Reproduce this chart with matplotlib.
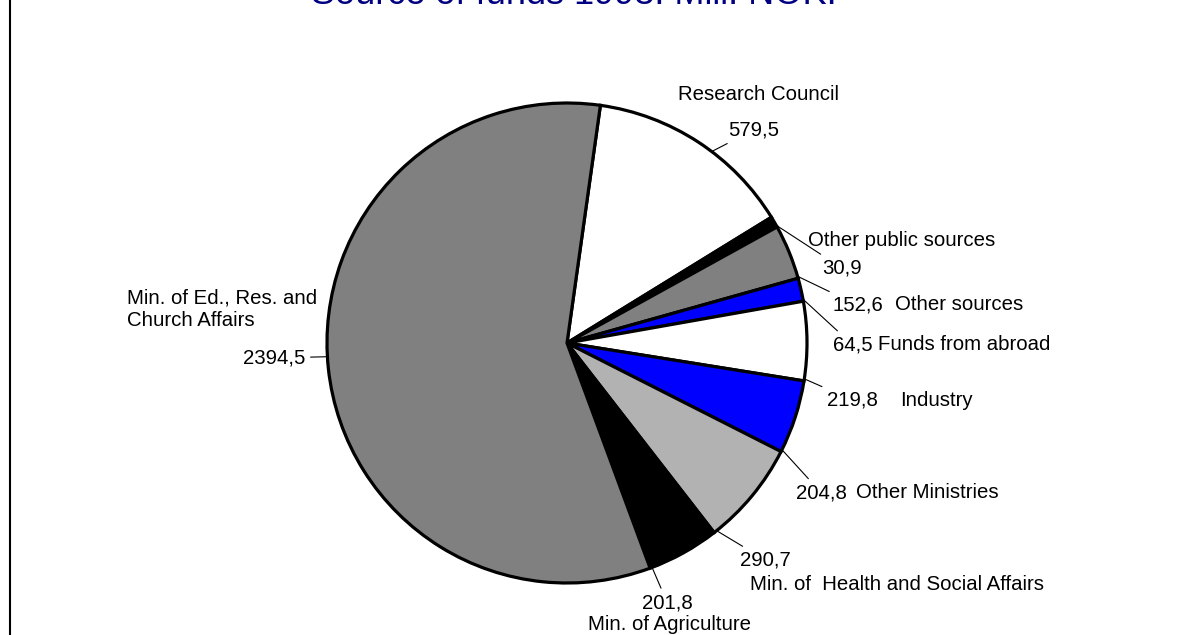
import numpy as np
import matplotlib
matplotlib.use('Agg')
import matplotlib.pyplot as plt

plt.rcParams['font.family'] = ['Liberation Sans', 'DejaVu Sans']

# Data (Mill. NOK), clockwise from the top
sources = ['Research Council', 'Other public sources', 'Other sources',
           'Funds from abroad', 'Industry', 'Other Ministries',
           'Min. of  Health and Social Affairs', 'Min. of Agriculture',
           'Min. of Ed., Res. and\nChurch Affairs']
values = [579.5, 30.9, 152.6, 64.5, 219.8, 204.8, 290.7, 201.8, 2394.5]
value_labels = ['579,5', '30,9', '152,6', '64,5', '219,8', '204,8', '290,7', '201,8', '2394,5']
colors = ['white', 'black', '#808080', '#0000ff', 'white', '#0000ff',
          '#b2b2b2', 'black', '#808080']

# label layout, in pie radius units relative to centre
PX, PY, R = 567, 343, 240.0


def p(x, y):
    return (x - PX) / R, (PY - y) / R


value_pos = [p(728, 130), p(822, 268), p(832, 305), p(833, 345), p(827, 400),
             p(796, 493), p(740, 560), p(642, 603), p(305, 358)]
value_ha = ['left'] * 8 + ['right']
name_pos = [p(678, 95), p(808, 241), p(895, 305), p(878, 345), p(900, 400),
            p(856, 493), p(750, 585), p(588, 625), p(127, 309)]

fig = plt.figure(figsize=(12, 6.35), dpi=100)
ax = fig.add_axes([0, 0, 1, 1])

wedges, _ = ax.pie(values, colors=colors, startangle=82, counterclock=False,
                   radius=1.0, wedgeprops=dict(edgecolor='black', linewidth=2.3))

# pie() resets the limits, so set them afterwards
ax.set_xlim(-PX / R, (1200 - PX) / R)
ax.set_ylim(-(635 - PY) / R, PY / R)
ax.set_aspect('equal')
ax.axis('off')

fs = 14.7
for w, vl, vp, ha, name, npos in zip(wedges, value_labels, value_pos, value_ha,
                                     sources, name_pos):
    # leader goes to the edge point nearest the label, kept inside the slice
    t1, t2 = w.theta1, w.theta2
    a = np.degrees(np.arctan2(vp[1], vp[0]))
    while a < t1:
        a += 360
    while a > t1 + 360:
        a -= 360
    if a > t2:
        # outside the slice: snap to the closer boundary
        d1 = min(abs(a - t1), abs(a - 360 - t1))
        d2 = abs(a - t2)
        a = t1 + 0.5 if d1 < d2 else t2 - 0.5
    edge = (np.cos(np.radians(a)), np.sin(np.radians(a)))
    ax.annotate(vl, xy=edge, xytext=vp, ha=ha, va='center', fontsize=fs,
                arrowprops=dict(arrowstyle='-', color='black', lw=0.8,
                                shrinkA=2, shrinkB=0))
    ax.text(npos[0], npos[1], name, ha='left', va='center', fontsize=fs,
            linespacing=1.25)

# title, mostly cut off at the top edge
ax.text(*p(574, 4), 'Source of funds 1993. Mill. NOK.', ha='center',
        va='baseline', fontsize=26, color='#000080', clip_on=False)

# left border line
ax.plot([(10 - PX) / R] * 2, [-(635 - PY) / R, PY / R], color='black', lw=1.5,
        clip_on=False)

fig.savefig('out.png', dpi=100)
